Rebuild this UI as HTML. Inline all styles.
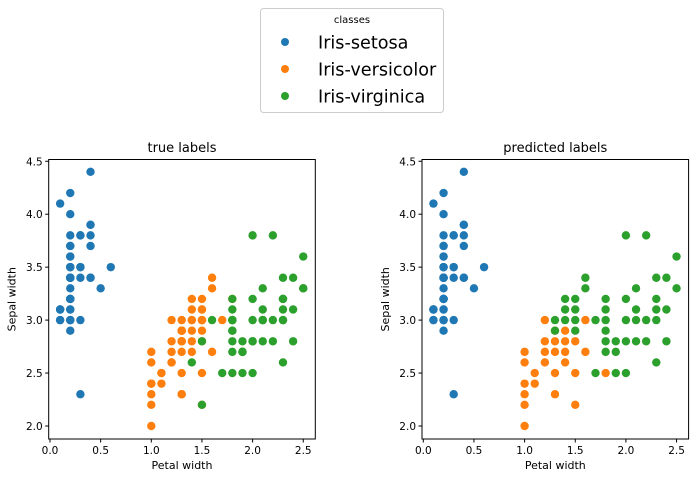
<!DOCTYPE html>
<html><head><meta charset="utf-8">
<style>
body{margin:0;background:#fff;}
svg{display:block;font-family:"DejaVu Sans","Liberation Sans",sans-serif;}
</style></head>
<body>
<svg id="fig" width="699" height="479" viewBox="0 0 699 479">
  <g>
    <rect x="260.5" y="8.5" width="183" height="104" rx="3" fill="#fff" stroke="#ccc"/>
    <text x="352" y="23" font-size="10" text-anchor="middle" fill="#000">classes</text>
    <g>
      <circle cx="285" cy="42" r="4" fill="#1f77b4"/>
      <text x="318" y="48.5" font-size="17.6" fill="#000">Iris-setosa</text>
    </g>
    <g>
      <circle cx="285" cy="69" r="4" fill="#ff7f0e"/>
      <text x="318" y="75.5" font-size="17.6" fill="#000">Iris-versicolor</text>
    </g>
    <g>
      <circle cx="285" cy="96" r="4" fill="#2ca02c"/>
      <text x="318" y="102.5" font-size="17.6" fill="#000">Iris-virginica</text>
    </g>
  </g>
</svg>
<script>
const truePetal = [0.2,0.2,0.2,0.2,0.2,0.4,0.3,0.2,0.2,0.1,0.2,0.2,0.1,0.1,0.2,0.4,0.4,0.3,0.3,0.3,0.2,0.4,0.2,0.5,0.2,0.2,0.4,0.2,0.2,0.2,0.2,0.4,0.1,0.2,0.1,0.2,0.2,0.1,0.2,0.2,0.3,0.3,0.2,0.6,0.4,0.3,0.2,0.2,0.2,0.2,
1.4,1.5,1.5,1.3,1.5,1.3,1.6,1.0,1.3,1.4,1.0,1.5,1.0,1.4,1.3,1.4,1.5,1.0,1.5,1.1,1.8,1.3,1.5,1.2,1.3,1.4,1.4,1.7,1.5,1.0,1.1,1.0,1.2,1.6,1.5,1.6,1.5,1.3,1.3,1.3,1.2,1.4,1.2,1.0,1.3,1.2,1.3,1.3,1.1,1.3,
2.5,1.9,2.1,1.8,2.2,2.1,1.7,1.8,1.8,2.5,2.0,1.9,2.1,2.0,2.4,2.3,1.8,2.2,2.3,1.5,2.3,2.0,2.0,1.8,2.1,1.8,1.8,1.8,2.1,1.6,1.9,2.0,2.2,1.5,1.4,2.3,2.4,1.8,1.8,2.1,2.4,2.3,1.9,2.3,2.5,2.3,1.9,2.0,2.3,1.8];
const trueSepal = [3.5,3.0,3.2,3.1,3.6,3.9,3.4,3.4,2.9,3.1,3.7,3.4,3.0,3.0,4.0,4.4,3.9,3.5,3.8,3.8,3.4,3.7,3.6,3.3,3.4,3.0,3.4,3.5,3.4,3.2,3.1,3.4,4.1,4.2,3.1,3.2,3.5,3.1,3.0,3.4,3.5,2.3,3.2,3.5,3.8,3.0,3.8,3.2,3.7,3.3,
3.2,3.2,3.1,2.3,2.8,2.8,3.3,2.4,2.9,2.7,2.0,3.0,2.2,2.9,2.9,3.1,3.0,2.7,2.2,2.5,3.2,2.8,2.5,2.8,2.9,3.0,2.8,3.0,2.9,2.6,2.4,2.4,2.7,2.7,3.0,3.4,3.1,2.3,3.0,2.5,2.6,3.0,2.6,2.3,2.7,3.0,2.9,2.9,2.5,2.8,
3.3,2.7,3.0,2.9,3.0,3.0,2.5,2.9,2.5,3.6,3.2,2.7,3.0,2.5,2.8,3.2,3.0,3.8,2.6,2.2,3.2,2.8,2.8,2.7,3.3,3.2,2.8,3.0,2.8,3.0,2.8,3.8,2.8,2.8,2.6,3.0,3.4,3.1,3.0,3.1,3.1,3.1,2.7,3.2,3.3,3.0,2.5,3.0,3.4,3.0];
const trueClass = [].concat(Array(50).fill(0),Array(50).fill(1),Array(50).fill(2));

const predPetal = truePetal.slice(0,50).concat([
1.0,1.0,1.0,1.0,1.0,1.0,1.1,1.1,1.2,1.2,1.2,1.2,1.3,1.3,1.3,1.3,1.3,1.4,1.4,1.4,1.4,1.5,1.5,1.5,1.6,1.6,1.8,
1.3,1.3,1.4,1.4,1.4,1.5,1.5,1.5,1.5,1.6,1.6,1.7,1.7,1.8,1.8,1.8,1.8,1.8,1.8,1.9,1.9,1.9,2.0,2.0,2.0,2.0,2.0,2.1,2.1,2.1,2.1,2.2,2.2,2.2,2.3,2.3,2.3,2.3,2.3,2.4,2.4,2.4,2.5,2.5]);
const predSepal = trueSepal.slice(0,50).concat([
2.7,2.6,2.4,2.3,2.2,2.0,2.5,2.4,3.0,2.8,2.7,2.6,2.8,2.7,2.5,2.3,2.9,2.9,2.8,2.7,2.6,2.8,2.5,2.2,3.0,2.7,2.5,
3.0,2.9,3.2,3.1,3.0,3.2,3.1,3.0,2.9,3.4,3.3,3.0,2.5,3.2,3.1,3.0,2.9,2.8,2.7,2.8,2.7,2.5,3.8,3.2,3.0,2.8,2.5,3.3,3.1,3.0,2.8,3.8,3.0,2.8,3.4,3.2,3.1,3.0,2.6,3.4,3.1,2.8,3.6,3.3]);
const predClass = [].concat(Array(50).fill(0),Array(27).fill(1),Array(44).fill(2));

const xTicks = ["0.0","0.5","1.0","1.5","2.0","2.5"];
const yTicks = ["2.0","2.5","3.0","3.5","4.0","4.5"];
const colors = ["#1f77b4","#ff7f0e","#2ca02c"];

const NS = "http://www.w3.org/2000/svg";
const svg = document.getElementById("fig");
function mk(tag, attrs, parent){
  const e = document.createElementNS(NS, tag);
  for (const k in attrs) e.setAttribute(k, attrs[k]);
  parent.appendChild(e);
  return e;
}
function panel(offset, title, px, py, cls, key){
  const frameL = 48.7 + offset, frameR = 315.3 + offset, frameT = 159.5, frameB = 439;
  const xs = v => 50 + offset + v * 101.3;
  const ys = v => 426 - (v - 2.0) * 105.9;
  const g = mk("g", {}, svg);
  
  
  const t = mk("text", {x:(frameL+frameR)/2, y:152, "font-size":13, "text-anchor":"middle", fill:"#000"}, g);
  t.textContent = title;
  
  
  const pg = mk("g", {}, g);
  
  
  for (let c = 0; c < 3; c++) {
    for (let i = 0; i < px.length; i++) {
      if (cls[i] !== c) continue;
      const p = mk("circle", {cx:xs(px[i]), cy:ys(py[i]), r:4.2, fill:colors[c]}, pg);
      
      
    }
  }
  const fr = mk("rect", {x:frameL, y:frameT, width:frameR-frameL, height:frameB-frameT, fill:"none", stroke:"#000", "stroke-width":1}, g);
  
  
  xTicks.forEach(lbl => {
    const v = parseFloat(lbl), x = xs(v);
    mk("line", {x1:x, x2:x, y1:frameB, y2:frameB+3.5, stroke:"#000"}, g);
    const tt = mk("text", {x:x, y:frameB+15, "font-size":10.5, "text-anchor":"middle", fill:"#000"}, g);
    tt.textContent = lbl;
    
    
  });
  yTicks.forEach(lbl => {
    const v = parseFloat(lbl), y = ys(v);
    mk("line", {x1:frameL-3.5, x2:frameL, y1:y, y2:y, stroke:"#000"}, g);
    const tt = mk("text", {x:frameL-6, y:y+4, "font-size":10.5, "text-anchor":"end", fill:"#000"}, g);
    tt.textContent = lbl;
    
    
  });
  const xl = mk("text", {x:(frameL+frameR)/2, y:469, "font-size":11, "text-anchor":"middle", fill:"#000"}, g);
  xl.textContent = "Petal width";
  
  
  const yx = frameL - 33, yy = (frameT+frameB)/2;
  const yl = mk("text", {x:yx, y:yy, "font-size":11, "text-anchor":"middle", fill:"#000", transform:`rotate(-90 ${yx} ${yy})`}, g);
  yl.textContent = "Sepal width";
  
  
}
panel(0, "true labels", truePetal, trueSepal, trueClass, "true-labels");
panel(373.3, "predicted labels", predPetal, predSepal, predClass, "predicted-labels");
</script>
</body></html>
